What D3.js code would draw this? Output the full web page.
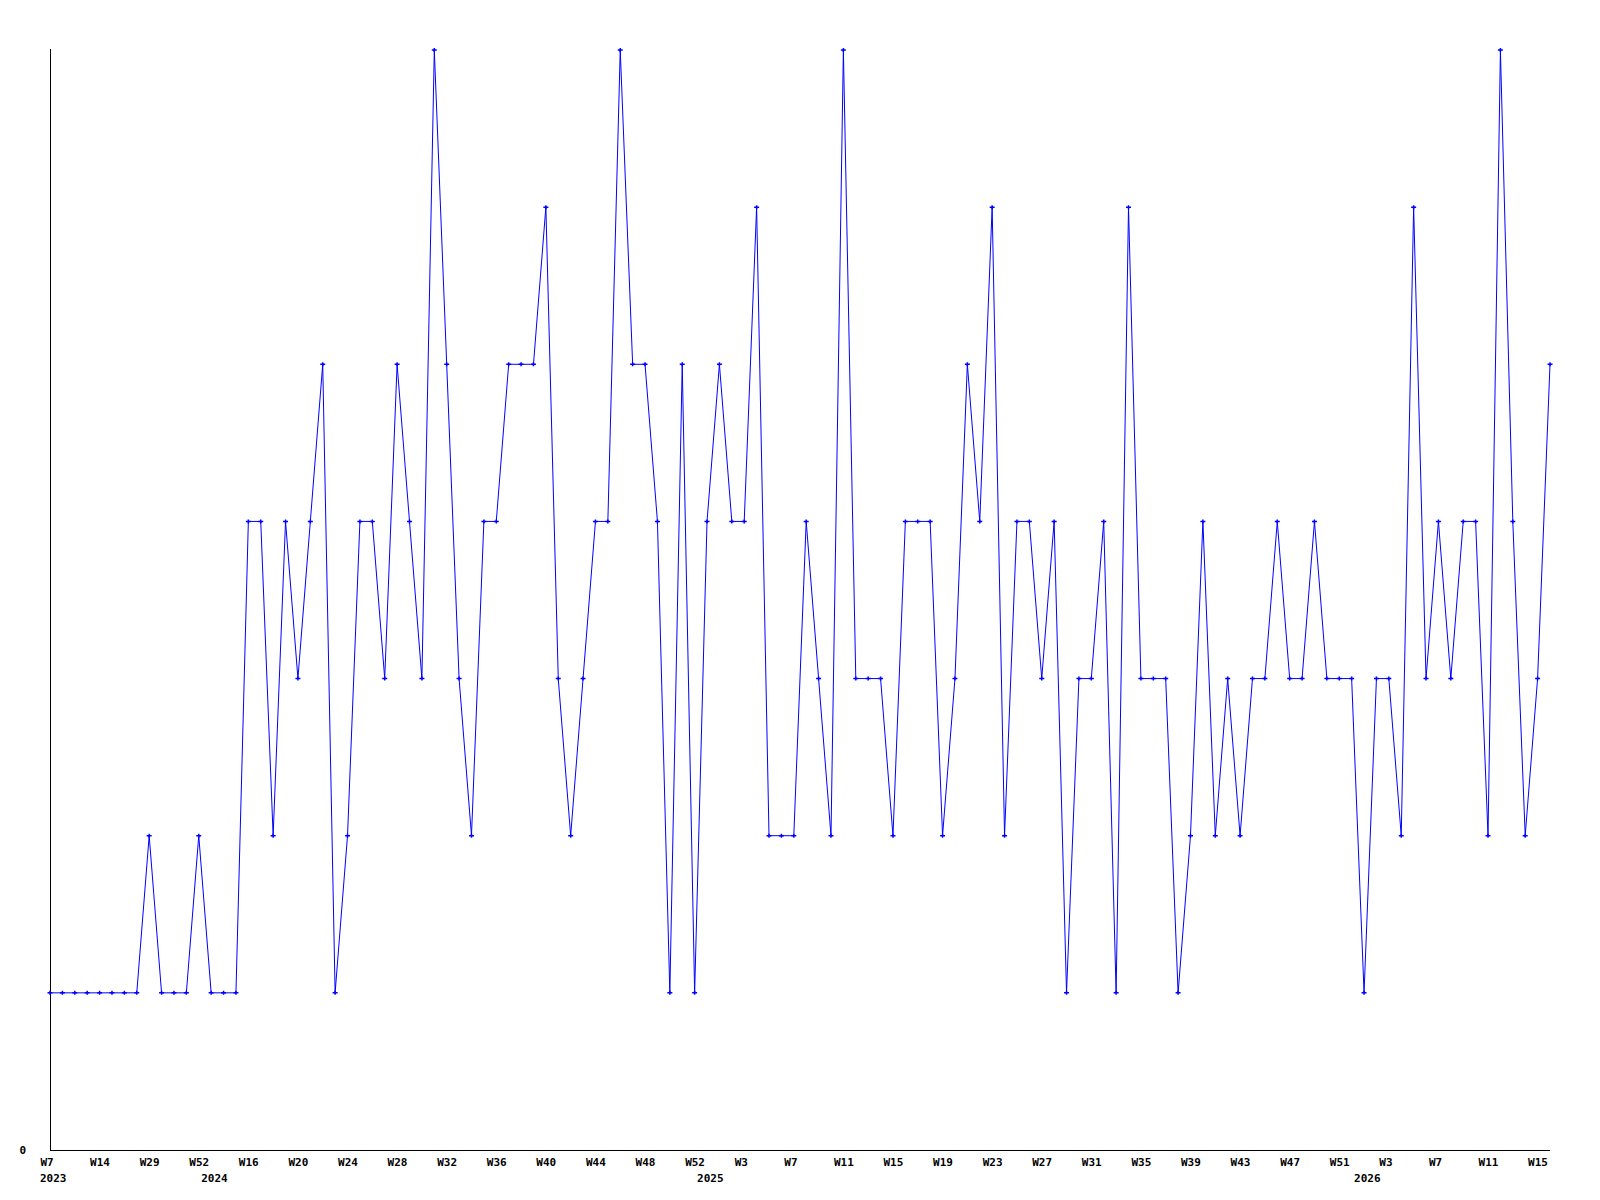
<!DOCTYPE html>
<html lang="en">
<head>
<meta charset="utf-8">
<title>Weekly counts</title>
<script src="https://d3js.org/d3.v7.min.js"></script>
<style>
  body { margin: 0; background: #fff; }
  text { font-family: "DejaVu Sans Mono", monospace; font-size: 11px; font-weight: bold; fill: #000; }
</style>
</head>
<body>
<script>
// one value per week, in order
var values = [
  1, 1, 1, 1, 1, 1, 1, 1, 2, 1, 1, 1, 2, 1, 1, 1,
  4, 4, 2, 4, 3, 4, 5, 1, 2, 4, 4, 3, 5, 4, 3, 7,
  5, 3, 2, 4, 4, 5, 5, 5, 6, 3, 2, 3, 4, 4, 7, 5,
  5, 4, 1, 5, 1, 4, 5, 4, 4, 6, 2, 2, 2, 4, 3, 2,
  7, 3, 3, 3, 2, 4, 4, 4, 2, 3, 5, 4, 6, 2, 4, 4,
  3, 4, 1, 3, 3, 4, 1, 6, 3, 3, 3, 1, 2, 4, 2, 3,
  2, 3, 3, 4, 3, 3, 4, 3, 3, 3, 1, 3, 3, 2, 6, 3,
  4, 3, 4, 4, 2, 7, 4, 2, 3, 5
];

// a label on every 4th week
var tickLabels = ["W7", "W14", "W29", "W52", "W16", "W20", "W24", "W28", "W32", "W36",
  "W40", "W44", "W48", "W52", "W3", "W7", "W11", "W15", "W19", "W23", "W27", "W31",
  "W35", "W39", "W43", "W47", "W51", "W3", "W7", "W11", "W15"];
var tickStep = 4;

var yearLabels = ["2023", "2024", "2025", "2026"];
var yearStarts = [0, 13, 53, 106];

var yMax = 7;

var width = 1600, height = 1200;
var margin = {left: 50, right: 1550, top: 50, bottom: 1150};

var svg = d3.select("body").append("svg")
    .attr("width", width)
    .attr("height", height);

var x = d3.scaleLinear()
    .domain([0, values.length - 1])
    .range([margin.left, margin.right]);

var y = d3.scaleLinear()
    .domain([0, yMax])
    .range([margin.bottom, margin.top]);

// axes
var xAxis = d3.axisBottom(x)
    .tickValues(d3.range(0, values.length, tickStep))
    .tickFormat(function(d, i) { return tickLabels[i]; })
    .tickSize(0);

var gx = svg.append("g")
    .attr("transform", "translate(0," + margin.bottom + ")")
    .call(xAxis);
gx.select(".domain").remove();
gx.attr("font-family", null).attr("font-size", null);
gx.selectAll("text")
    .attr("text-anchor", "start")
    .attr("dx", -10)
    .attr("y", 16)
    .attr("dy", 0);

svg.append("g")
  .selectAll("text")
  .data(yearLabels)
  .enter().append("text")
    .attr("x", function(d, i) { return x(yearStarts[i]) - 10; })
    .attr("y", margin.bottom + 32)
    .text(function(d) { return d; });

svg.append("text")
    .attr("x", 26)
    .attr("y", y(0) + 4)
    .attr("text-anchor", "end")
    .text("0");

svg.append("line")
    .attr("x1", margin.left + 0.5).attr("x2", margin.left + 0.5)
    .attr("y1", margin.top - 1).attr("y2", margin.bottom)
    .attr("stroke", "#000");
svg.append("line")
    .attr("x1", margin.left).attr("x2", margin.right)
    .attr("y1", margin.bottom + 0.5).attr("y2", margin.bottom + 0.5)
    .attr("stroke", "#000");

// series
var line = d3.line()
    .x(function(d, i) { return x(i); })
    .y(function(d) { return y(d); });

svg.append("path")
    .datum(values)
    .attr("fill", "none")
    .attr("stroke", "#0000ff")
    .attr("stroke-width", 1)
    .attr("d", line);

svg.append("g")
  .selectAll("path")
  .data(values)
  .enter().append("path")
    .attr("transform", function(d, i) { return "translate(" + x(i) + "," + y(d) + ")"; })
    .attr("d", "M-2.5,0H2.5M0,-2V2")
    .attr("stroke", "#0000ff")
    .attr("stroke-width", 1.5)
    .attr("fill", "none");
</script>
</body>
</html>
